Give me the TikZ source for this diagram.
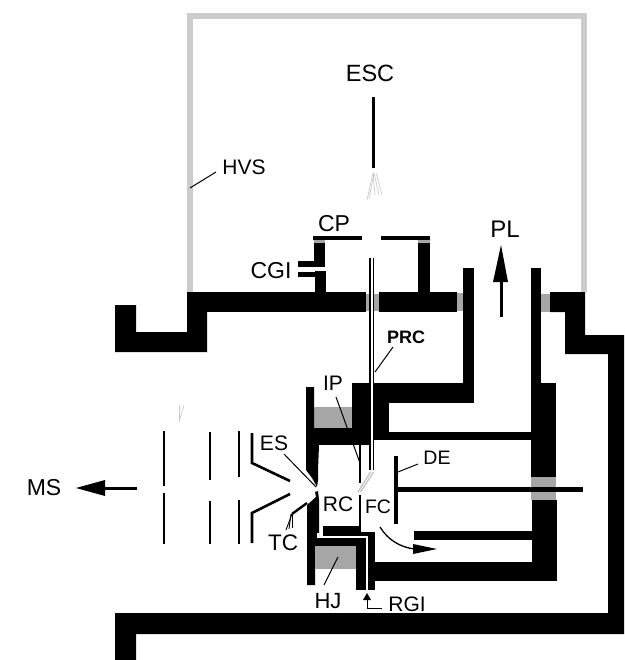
\documentclass[tikz,border=0pt]{standalone}
\usepackage{fontspec}
\setmainfont{Liberation Sans}
\definecolor{hvs}{HTML}{CCCCCC}
\definecolor{midgrey}{HTML}{A6A6A6}
\tikzset{
  wall/.style={fill=black,draw=none},
  insulator/.style={fill=midgrey,draw=none},
  shield/.style={draw=hvs,line width=6pt,line join=miter},
  electrode/.style={draw=black,line width=2.6pt},
  leader/.style={draw=black,line width=1pt},
  faint/.style={draw=hvs,line width=.7pt},
  lab/.style={inner sep=0pt,font=\fontsize{21}{21}\selectfont},
  flowhead/.style={fill=black,draw=none}
}
\newcommand{\BX}[5][wall]{\fill[#1] (#2,#3) rectangle (#4,#5);}
\begin{document}
\begin{tikzpicture}[x=1pt,y=-1pt]
\useasboundingbox (0,0) rectangle (624,660);
% high voltage shield
\draw[shield] (190,292) -- (190,16) -- (584,16) -- (584,292);
% top plate and outer housing
\BX{187}{292}{366}{312}
\BX[insulator]{366}{294}{379}{311}
\BX{379}{292}{457}{312}
\BX[insulator]{457}{293}{464}{311}
\BX[insulator]{541}{294}{551}{312}
\fill[wall] (550,292) -- (585,292) -- (585,335) -- (624,335) -- (624,634) -- (136,634) -- (136,660) -- (115,660) -- (115,613) -- (608,613) -- (608,354) -- (565,354) -- (565,312) -- (550,312) -- cycle;
\fill[wall] (187,292) -- (207,292) -- (207,352) -- (115,352) -- (115,305) -- (136,305) -- (136,332) -- (187,332) -- cycle;
% CP cup
\BX{313}{236}{362}{240}
\BX{381}{236}{430}{240}
\BX[insulator]{314}{240}{325}{244}
\BX[insulator]{418}{240}{430}{244}
\BX{314}{243}{325}{267}
\BX{315}{271}{326}{292}
\BX{298}{261}{325}{267}
\BX{298}{272}{326}{277}
\BX{418}{243}{430}{292}
% ion source upper body
\BX{463}{268}{474}{403}
\BX{352}{383}{474}{403}
\BX{352}{383}{389}{432}
\BX{370}{432}{531}{440}
\BX[insulator]{314}{407}{352}{428}
\BX{306}{428}{370}{445}
\fill[wall] (306,387) -- (314,387) -- (314,428) -- (319,445) -- (318,470) -- (318,480) -- (317,487) -- (312,478) -- (306,470) -- cycle;
% lower wall
\fill[wall] (318,491) -- (319,500) -- (319,538) -- (315,538) -- (315,585) -- (307,585) -- (307,505) -- (316,497) -- (315,492) -- cycle;
\BX{307}{538}{366}{546}
\BX{356}{546}{366}{590}
\BX[insulator]{315}{546}{356}{569}
\BX{323}{526}{360}{536}
\BX{358}{532}{375}{536}
\BX{368}{533}{375}{590}
\BX{375}{562}{557}{581}
\draw[white,line width=1.7pt] (318,533) -- (318,537) -- (367,537) -- (367,590);
% right wall
\BX{531}{268}{541}{383}
\BX{531}{383}{556}{477}
\BX[insulator]{531}{477}{556}{500}
\BX{532}{500}{557}{581}
\BX{414}{531}{532}{540}
% tube (PRC)
\draw[white,line width=3pt] (371.7,258) -- (371.7,470);
\draw[black,line width=1.1pt] (370,258) -- (370,470);
\draw[black,line width=1.1pt] (373.5,258) -- (373.5,470);
\draw[hvs,line width=1.6pt] (373.5,472) -- (360.5,492);
\draw[hvs,line width=1.6pt] (370.5,472) -- (358,492);
% IP and FC electrodes
\draw[electrode] (360,442) -- (360,483);
\draw[electrode] (360,495) -- (360,532);
% DE
\draw[black,line width=3.4pt] (396,456) -- (396,524);
\draw[black,line width=5pt] (396,489) -- (583,489);
% extraction lenses
\draw[electrode] (164,431) -- (164,486);
\draw[electrode] (164,493) -- (164,544);
\draw[electrode] (210,432) -- (210,480);
\draw[electrode] (210,501) -- (210,544);
\draw[electrode] (239,431) -- (239,477);
\draw[electrode] (239,500) -- (239,544);
\draw[electrode] (252,433) -- (252,463) -- (290,481);
\draw[electrode] (252,543) -- (252,513) -- (290,494);
% thermocouple
\draw[black,line width=2.4pt] (307,503) -- (292,514);
\draw[black,line width=.9pt] (292,514) -- (286,530);
\draw[black,line width=.9pt] (291,514) -- (289,529);
\draw[black,line width=.9pt] (292,514) -- (292,528);
% ESC filament
\draw[black,line width=3pt] (373,97) -- (373,168);
\draw[faint] (373,173) -- (367,200);
\draw[faint] (374,173) -- (369,199);
\draw[faint] (373,173) -- (375,195);
\draw[faint] (376,173) -- (382,195);
\draw[faint] (374,173) -- (379,195);
\draw[faint] (184,405) -- (179,422);
\draw[faint] (179,405) -- (179,422);
% labels
\node[lab,font=\fontsize{23.5}{23.5}\selectfont] (esc) at (370,73) {ESC};
\node[lab] (hvs) at (244,167) {HVS};
\node[lab,font=\fontsize{23}{23}\selectfont] (cp) at (334,224) {CP};
\node[lab,font=\fontsize{23}{23}\selectfont] (cgi) at (271,271) {CGI};
\node[lab,font=\fontsize{24}{24}\selectfont] (pl) at (505,229) {PL};
\node[lab,font=\fontsize{18}{18}\selectfont\bfseries] (prc) at (406,337) {PRC};
\node[lab] (ip) at (333,383) {IP};
\node[lab] (es) at (274,443) {ES};
\node[lab,font=\fontsize{19.5}{19.5}\selectfont] (de) at (437,458) {DE};
\node[lab] (rc) at (338,504) {RC};
\node[lab,font=\fontsize{19.5}{19.5}\selectfont] (fc) at (378,507) {FC};
\node[lab,font=\fontsize{22.5}{22.5}\selectfont] (tc) at (283,543) {TC};
\node[lab,font=\fontsize{22}{22}\selectfont] (hj) at (328,601) {HJ};
\node[lab] (rgi) at (407,604) {RGI};
\node[lab,font=\fontsize{23}{23}\selectfont] (ms) at (44,488) {MS};
% leaders
\coordinate (hvsA) at (190,188); \coordinate (hvsB) at (216,172);
\coordinate (prcA) at (375,372); \coordinate (prcB) at (393,347);
\coordinate (ipA) at (336,397); \coordinate (ipB) at (360,463);
\coordinate (esA) at (284,454); \coordinate (esB) at (316,487);
\coordinate (deA) at (398,472); \coordinate (deB) at (418,464);
\coordinate (hjA) at (324,585); \coordinate (hjB) at (338,557);
\draw[leader] (hvsA) -- (hvsB);
\draw[leader] (prcA) -- (prcB);
\draw[leader] (ipA) -- (ipB);
\draw[leader] (esA) -- (esB);
\draw[leader] (deA) -- (deB);
\draw[leader] (hjA) -- (hjB);
% PL arrow
\coordinate (plA) at (501,317); \coordinate (plB) at (501,282);
\draw[black,line width=3pt] (plA) -- (plB);
\fill[flowhead] (493,282) -- (508,282) -- (501,245) -- cycle;
% MS arrow
\coordinate (msA) at (137,488); \coordinate (msB) at (105,488);
\draw[black,line width=3pt] (msA) -- (msB);
\fill[flowhead] (105,480) -- (105,496) -- (76,488) -- cycle;
% flow arrow
\coordinate (flA) at (380,527); \coordinate (flB) at (414,549);
\draw[black,line width=1.3pt] (flA) .. controls (388,540) and (400,547) .. (flB);
\fill[flowhead] (413,544) -- (413,554) -- (437,549) -- cycle;
% RGI arrow
\coordinate (rgA) at (382,608); \coordinate (rgB) at (367,600);
\draw[black,line width=1pt] (rgA) -- (367,608) -- (rgB);
\fill[flowhead] (363,600) -- (371,600) -- (367,593) -- cycle;
\end{tikzpicture}
\end{document}
